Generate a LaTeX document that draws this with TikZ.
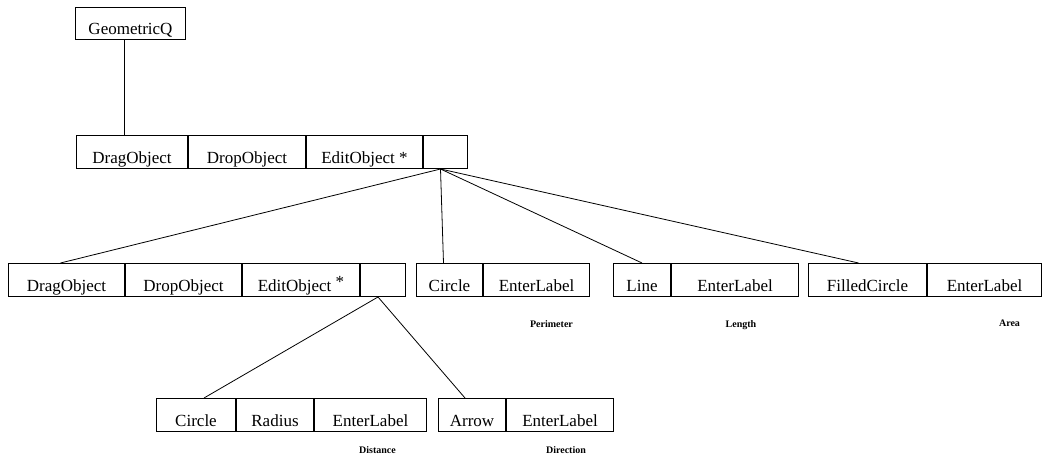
\documentclass[tikz,border=0pt]{standalone}
\usepackage{fontspec}
\setmainfont{Liberation Serif}
\usetikzlibrary{positioning}

\begin{document}
\begin{tikzpicture}[
    x=1pt, y=-1pt,
    cell/.style={draw, line width=1pt, minimum height=33pt, inner sep=0pt,
        font=\fontsize{17}{20}\selectfont, text height=26pt, text depth=3pt},
    note/.style={font=\fontsize{10}{12}\selectfont\bfseries, inner sep=0pt},
    link/.style={line width=0.8pt}
]
    \useasboundingbox (0,0) rectangle (1046,462);

    % === ROOT ===
    \node[cell, minimum width=110pt, minimum height=32pt, anchor=north west] (geo) at (75,7) {GeometricQ};

    % === SECOND LEVEL ===
    \node[cell, minimum width=111pt, anchor=north west] (d2a) at (76,135) {DragObject};
    \node[cell, minimum width=117pt, right=0pt of d2a] (d2b) {DropObject};
    \node[cell, minimum width=116pt, right=0pt of d2b] (d2c) {EditObject *};
    \node[cell, minimum width=44pt, right=0pt of d2c] (e2) {};

    % === THIRD LEVEL ===
    \node[cell, minimum width=116pt, anchor=north west] (d3a) at (8,263) {DragObject};
    \node[cell, minimum width=116pt, right=0pt of d3a] (d3b) {DropObject};
    \node[cell, minimum width=117pt, right=0pt of d3b] (d3c) {EditObject \raisebox{4pt}{*}};
    \node[cell, minimum width=45pt, right=0pt of d3c] (e3) {};

    \node[cell, minimum width=66pt, anchor=north west] (c3a) at (416,263) {Circle};
    \node[cell, minimum width=106pt, right=0pt of c3a] (c3b) {EnterLabel};

    \node[cell, minimum width=57pt, anchor=north west] (l3a) at (613,263) {Line};
    \node[cell, minimum width=127pt, right=0pt of l3a] (l3b) {EnterLabel};

    \node[cell, minimum width=118pt, anchor=north west] (f3a) at (808,263) {FilledCircle};
    \node[cell, minimum width=114pt, right=0pt of f3a] (f3b) {EnterLabel};

    \node[note, below=23pt of c3b, xshift=15pt] (perim) {Perimeter};
    \node[note, below=23pt of l3b, xshift=6pt] (len) {Length};
    \node[note, below=23pt of f3b, xshift=25pt] (area) {Area};

    % === FOURTH LEVEL ===
    \node[cell, minimum width=79pt, anchor=north west] (c4a) at (156,398) {Circle};
    \node[cell, minimum width=77pt, right=0pt of c4a] (c4b) {Radius};
    \node[cell, minimum width=112pt, right=0pt of c4b] (c4c) {EnterLabel};

    \node[cell, minimum width=67pt, anchor=north west] (a4a) at (438,398) {Arrow};
    \node[cell, minimum width=107pt, right=0pt of a4a] (a4b) {EnterLabel};

    \node[note, below=14pt of c4c, xshift=7pt] (dist) {Distance};
    \node[note, below=14pt of a4b, xshift=6pt] (dir) {Direction};

    % === CONNECTORS ===
    \draw[link] ([xshift=-6pt]geo.south) -- ([xshift=-6pt]geo.south |- d2a.north);

    \draw[link] ([xshift=-5pt]e2.south) -- ([xshift=-6pt]d3a.north);
    \draw[link] ([xshift=-5pt]e2.south) -- ([xshift=-6pt]c3a.north);
    \draw[link] ([xshift=-5pt]e2.south) -- (l3a.north);
    \draw[link] ([xshift=-5pt]e2.south) -- ([xshift=-9pt]f3a.north);

    \draw[link] ([xshift=-5pt]e3.south) -- ([xshift=8pt]c4a.north);
    \draw[link] ([xshift=-5pt]e3.south) -- ([xshift=-7pt]a4a.north);
\end{tikzpicture}
\end{document}
